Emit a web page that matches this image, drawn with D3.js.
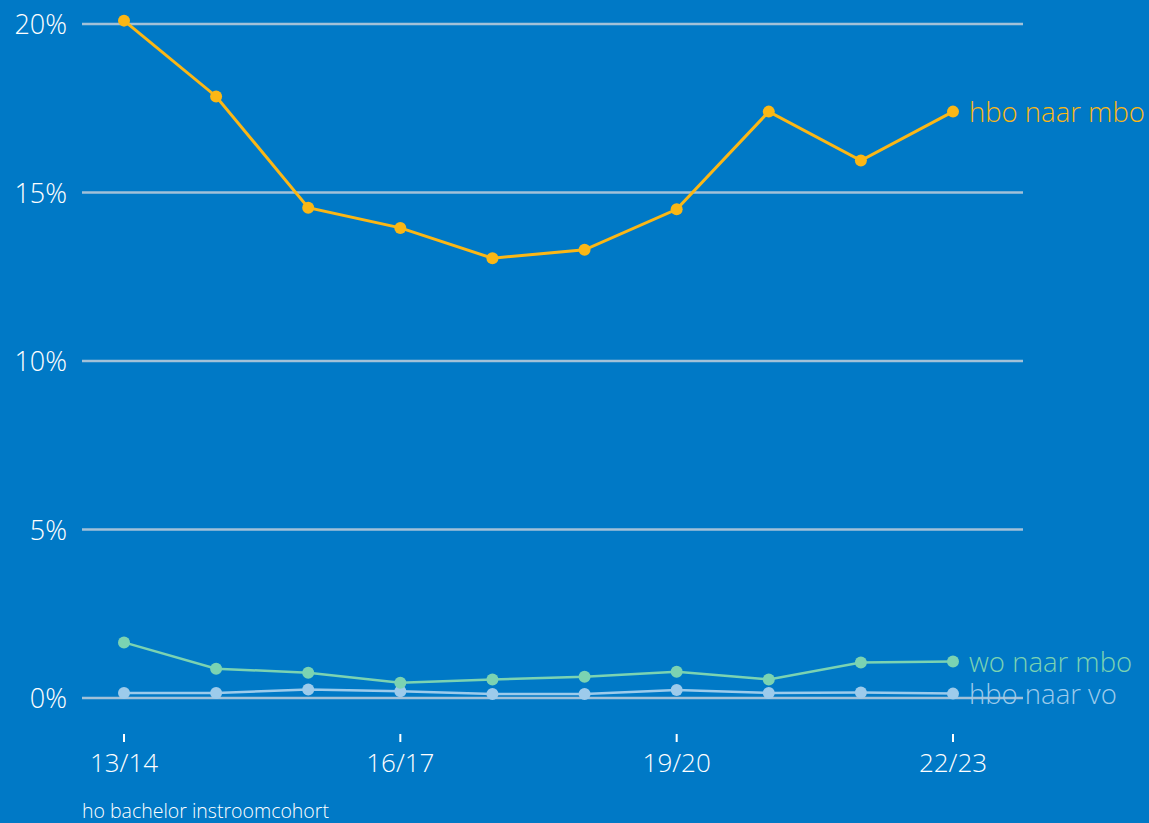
<!DOCTYPE html>
<html lang="nl">
<head>
  <meta charset="UTF-8">
  <title>Overstap ho</title>
  <script src="https://d3js.org/d3.v7.min.js"></script>
  <style>
    body { margin: 0; background: #0079C6; }
    text { font-family: "Open Sans", "Noto Sans", sans-serif; font-weight: 300; }
  </style>
</head>
<body>
  <script>
    var width = 1149;
    var height = 823;

    // cohorts
    var cohorts = ['13/14', '14/15', '15/16', '16/17', '17/18', '18/19', '19/20', '20/21', '21/22', '22/23'];
    var tickCohorts = ['13/14', '16/17', '19/20', '22/23'];
    var yTicks = [0, 5, 10, 15, 20];

    var hboNaarMbo = [20.1, 17.85, 14.55, 13.95, 13.05, 13.3, 14.5, 17.4, 15.95, 17.4];
    var woNaarMbo = [1.65, 0.87, 0.75, 0.45, 0.55, 0.63, 0.78, 0.55, 1.05, 1.08];
    var hboNaarVo = [0.15, 0.15, 0.25, 0.2, 0.12, 0.12, 0.24, 0.15, 0.16, 0.13];

    var series = [
      { name: 'hbo naar mbo', values: hboNaarMbo, color: '#FBB715', w: 3 },
      { name: 'wo naar mbo', values: woNaarMbo, color: '#7BD3B2', w: 2.5 },
      { name: 'hbo naar vo', values: hboNaarVo, color: '#9DCBEB', w: 2.5 }
    ];

    var svg = d3.select('body')
      .append('svg')
      .attr('width', width)
      .attr('height', height);

    var x = d3.scalePoint()
      .domain(cohorts)
      .range([124, 953]);

    var y = d3.scaleLinear()
      .domain([0, 20])
      .range([698, 24]);

    // rasterlijnen
    svg.selectAll('.grid')
      .data(yTicks)
      .enter()
      .append('line')
      .attr('x1', 82)
      .attr('x2', 1023)
      .attr('y1', function (d) { return y(d); })
      .attr('y2', function (d) { return y(d); })
      .attr('stroke', '#A2C1D8')
      .attr('stroke-width', 2.5);

    svg.selectAll('.ylab')
      .data(yTicks)
      .enter()
      .append('text')
      .attr('x', 67)
      .attr('y', function (d) { return y(d) + 10; })
      .attr('text-anchor', 'end')
      .attr('fill', 'white')
      .attr('font-size', '27px')
      .text(function (d) { return d + '%'; });

    // x-as ticks
    svg.selectAll('.xtick')
      .data(tickCohorts)
      .enter()
      .append('line')
      .attr('x1', function (d) { return x(d); })
      .attr('x2', function (d) { return x(d); })
      .attr('y1', 734)
      .attr('y2', 742)
      .attr('stroke', 'white')
      .attr('stroke-width', 2);

    svg.selectAll('.xlab')
      .data(tickCohorts)
      .enter()
      .append('text')
      .attr('x', function (d) { return x(d); })
      .attr('y', 772)
      .attr('text-anchor', 'middle')
      .attr('fill', 'white')
      .attr('font-size', '26px')
      .text(function (d) { return d; });

    svg.append('text')
      .attr('x', 82)
      .attr('y', 818)
      .attr('fill', 'white')
      .attr('font-size', '19.5px')
      .text('ho bachelor instroomcohort');

    var line = d3.line()
      .x(function (d, i) { return x(cohorts[i]); })
      .y(function (d) { return y(d); });

    // teken van onder naar boven
    series.slice().reverse().forEach(function (s) {
      svg.append('path')
        .datum(s.values)
        .attr('d', line)
        .attr('fill', 'none')
        .attr('stroke', s.color)
        .attr('stroke-width', s.w);

      svg.selectAll(null)
        .data(s.values)
        .enter()
        .append('circle')
        .attr('cx', function (d, i) { return x(cohorts[i]); })
        .attr('cy', function (d) { return y(d); })
        .attr('r', 6)
        .attr('fill', s.color);

      var last = s.values[s.values.length - 1];
      svg.append('text')
        .attr('x', x(cohorts[cohorts.length - 1]) + 16)
        .attr('y', y(last) + 10)
        .attr('fill', s.color)
        .attr('font-size', '27.5px')
        .text(s.name);
    });
  </script>
</body>
</html>
